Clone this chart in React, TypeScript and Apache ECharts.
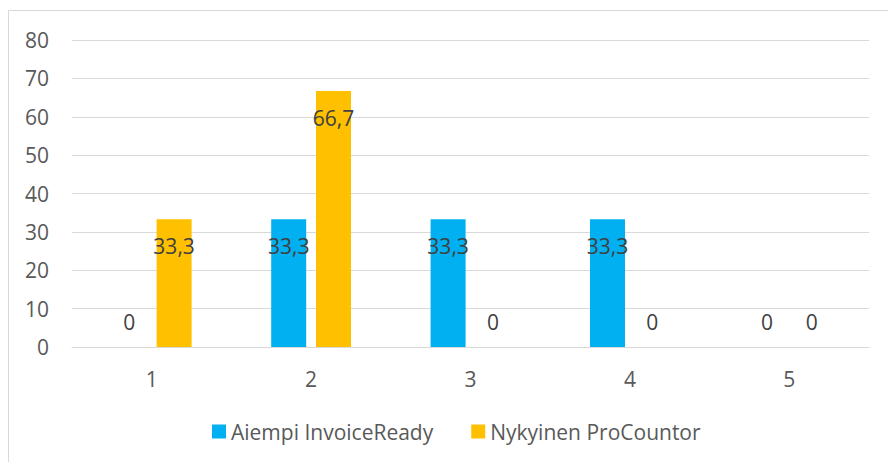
import React, { useEffect, useRef } from "react";
import * as echarts from "echarts";

const categories = ["1", "2", "3", "4", "5"];
const seriesNames = ["Aiempi InvoiceReady", "Nykyinen ProCountor"];
const aiempiValues = [0, 33.3, 33.3, 33.3, 0];
const nykyinenValues = [33.3, 66.7, 0, 0, 0];
const seriesColors = ["#00B0F0", "#FFC000"];

const FONT = "'Open Sans', sans-serif";

function buildData(values: number[]) {
  return values.map((v) => ({
    value: v,
    label:
      v === 0
        ? { position: "top" as const, distance: 15 }
        : { position: "insideTop" as const, distance: 16 },
  }));
}

export default function App() {
  const ref = useRef<HTMLDivElement>(null);
  useEffect(() => {
    document.body.style.margin = "0";
    if (!ref.current) return;
    const chart = echarts.init(ref.current, undefined, { renderer: "svg" });
    const labelStyle = {
      show: true,
      color: "#404040",
      fontSize: 21,
      lineHeight: 21,
      fontFamily: FONT,
      formatter: (p: any) => String(p.value).replace(".", ","),
    };
    chart.setOption({
      animation: false,
      backgroundColor: "#ffffff",
      textStyle: { fontFamily: FONT },
      graphic: [
        {
          type: "rect",
          shape: { x: 8.5, y: 10.5, width: 900, height: 480 },
          style: { fill: "none", stroke: "#d9d9d9", lineWidth: 1 },
          silent: true,
        },
      ],
      grid: { left: 72, right: 19, top: 40, bottom: 115 },
      legend: {
        data: seriesNames,
        left: 207,
        top: 416,
        icon: "rect",
        itemWidth: 14,
        itemHeight: 14,
        itemGap: 38,
        textStyle: { color: "#595959", fontSize: 21, fontFamily: FONT },
      },
      xAxis: {
        type: "category",
        data: categories,
        axisLine: { show: true, lineStyle: { color: "#d9d9d9", width: 1 } },
        axisTick: { show: false },
        axisLabel: { color: "#595959", fontSize: 21, margin: 21, fontFamily: FONT },
      },
      yAxis: {
        type: "value",
        min: 0,
        max: 80,
        interval: 10,
        axisLine: { show: false },
        axisTick: { show: false },
        splitLine: { lineStyle: { color: "#d9d9d9", width: 1 } },
        axisLabel: { color: "#595959", fontSize: 21, margin: 23, fontFamily: FONT },
      },
      series: [
        {
          name: seriesNames[0],
          type: "bar",
          data: buildData(aiempiValues),
          barWidth: 35,
          barGap: "28%",
          itemStyle: { color: seriesColors[0] },
          label: labelStyle,
        },
        {
          name: seriesNames[1],
          type: "bar",
          data: buildData(nykyinenValues),
          barWidth: 35,
          barGap: "28%",
          itemStyle: { color: seriesColors[1] },
          label: labelStyle,
        },
      ],
    });
    return () => chart.dispose();
  }, []);
  return <div ref={ref} style={{ width: 888, height: 462 }} />;
}
